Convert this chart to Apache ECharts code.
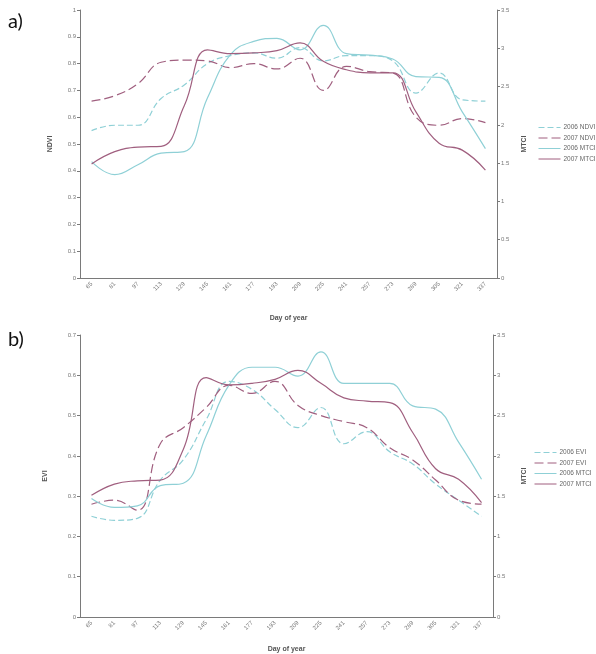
<!DOCTYPE html>
<html>
<head>
<meta charset="utf-8">
<script src="https://cdn.jsdelivr.net/npm/echarts@6/dist/echarts.min.js"></script>
<style>
html,body{margin:0;padding:0;background:#fff;}
#main{width:596px;height:654px;}
</style>
</head>
<body>
<div id="main"></div>
<script>
// day of year categories
var days=[65,81,97,113,129,145,161,177,193,209,225,241,257,273,289,305,321,337];

// a) NDVI / MTCI
var ndvi2006=[0.55,0.57,0.57,0.67,0.72,0.80,0.83,0.84,0.82,0.86,0.81,0.83,0.83,0.81,0.69,0.765,0.665,0.66];
var ndvi2007=[0.66,0.68,0.725,0.805,0.813,0.81,0.785,0.80,0.78,0.82,0.70,0.79,0.77,0.765,0.60,0.57,0.595,0.58];
var mtciA2006=[1.52,1.35,1.48,1.63,1.65,2.35,2.92,3.09,3.13,2.98,3.30,2.93,2.91,2.86,2.63,2.62,2.17,1.69];
var mtciA2007=[1.49,1.65,1.71,1.72,2.25,2.98,2.93,2.94,2.97,3.07,2.83,2.72,2.68,2.68,2.17,1.76,1.67,1.41];

// b) EVI / MTCI
var evi2006=[0.25,0.24,0.245,0.34,0.39,0.49,0.585,0.565,0.515,0.47,0.52,0.43,0.46,0.41,0.38,0.33,0.29,0.25];
var evi2007=[0.28,0.29,0.265,0.43,0.47,0.52,0.575,0.555,0.585,0.525,0.50,0.485,0.47,0.42,0.39,0.34,0.29,0.28];
var mtciB2006=[1.47,1.36,1.38,1.63,1.66,2.25,2.88,3.10,3.10,2.99,3.29,2.90,2.90,2.90,2.62,2.58,2.17,1.71];
var mtciB2007=[1.51,1.65,1.69,1.70,2.08,2.97,2.88,2.90,2.95,3.06,2.90,2.72,2.68,2.66,2.29,1.84,1.71,1.42];

var c2006='#8fd0d6', c2007='#a05f7f';
var axisCol='#7a7a7a', txtCol='#777';
var fam='Liberation Sans';

function xAx(grid,gap){
    return {
        type:'category',gridIndex:grid,data:days,boundaryGap:true,
        name:'Day of year',nameLocation:'middle',nameGap:gap,
        nameTextStyle:{fontSize:7,fontWeight:'bold',color:'#555',fontFamily:fam},
        axisLine:{lineStyle:{color:axisCol,width:1}},
        axisTick:{inside:true,length:3,lineStyle:{color:axisCol}},
        axisLabel:{rotate:45,fontSize:6,color:txtCol,fontFamily:fam,margin:5,interval:0}
    };
}
function yAx(grid,max,step,name,pos,gap){
    return {
        type:'value',gridIndex:grid,min:0,max:max,interval:step,position:pos,
        name:name,nameLocation:'middle',nameRotate:90,nameGap:gap,
        nameTextStyle:{fontSize:7,fontWeight:'bold',color:'#555',fontFamily:fam},
        axisLine:{show:true,lineStyle:{color:axisCol,width:1}},
        axisTick:{show:true,length:3,lineStyle:{color:axisCol}},
        axisLabel:{fontSize:6,color:txtCol,fontFamily:fam,margin:4},
        splitLine:{show:false}
    };
}
function line(name,data,xi,yi,color,dash){
    return {
        name:name,type:'line',xAxisIndex:xi,yAxisIndex:yi,data:data,
        smooth:0.45,symbol:'none',
        lineStyle:{color:color,width:1.2,type:dash||'solid'},
        itemStyle:{color:color}
    };
}
function leg(left,top,names){
    return {
        orient:'vertical',left:left,top:top,itemWidth:22,itemHeight:7,itemGap:3.5,
        itemStyle:{opacity:0},
        lineStyle:{width:1},
        textStyle:{fontSize:6.5,color:'#666',fontFamily:fam,padding:[0,0,0,-2]},
        data:names
    };
}

var chart=echarts.init(document.getElementById('main'));
chart.setOption({
    backgroundColor:'#fff',
    animation:false,
    grid:[
        {left:80,top:10,width:417,height:268},
        {left:80,top:335,width:413,height:284}
    ],
    xAxis:[xAx(0,37),xAx(1,29)],
    yAxis:[
        yAx(0,1,0.1,'NDVI','left',26),
        yAx(0,3.5,0.5,'MTCI','right',23),
        yAx(1,0.7,0.1,'EVI','left',31),
        yAx(1,3.5,0.5,'MTCI','right',28)
    ],
    legend:[
        leg(533,119,['2006 NDVI','2007 NDVI','2006 MTCI','2007 MTCI']),
        leg(529,444,['2006 EVI','2007 EVI','2006 MTCI ','2007 MTCI '])
    ],
    graphic:[
        {type:'text',left:8,top:12,style:{text:'a)',fontSize:20,fill:'#111',fontFamily:'Lato'}},
        {type:'text',left:8,top:330,style:{text:'b)',fontSize:20,fill:'#111',fontFamily:'Lato'}}
    ],
    series:[
        line('2006 NDVI',ndvi2006,0,0,c2006,[6,3]),
        line('2007 NDVI',ndvi2007,0,0,c2007,[9,4]),
        line('2006 MTCI',mtciA2006,0,1,c2006),
        line('2007 MTCI',mtciA2007,0,1,c2007),
        line('2006 EVI',evi2006,1,2,c2006,[6,3]),
        line('2007 EVI',evi2007,1,2,c2007,[9,4]),
        line('2006 MTCI ',mtciB2006,1,3,c2006),
        line('2007 MTCI ',mtciB2007,1,3,c2007)
    ]
});
</script>
</body>
</html>
